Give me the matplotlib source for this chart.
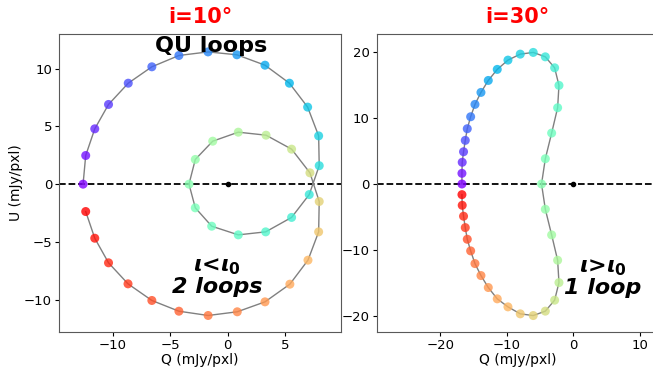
import numpy as np
import matplotlib
matplotlib.use("Agg")
import matplotlib.pyplot as plt

# texto matemático em negrito itálico (para o iota)
plt.rcParams['mathtext.fontset'] = 'custom'
plt.rcParams['mathtext.it'] = 'DejaVu Sans:italic:bold'
plt.rcParams['mathtext.rm'] = 'DejaVu Sans:bold'

# =============================================================================
# Data (mJy/pxl)
# =============================================================================
# i = 10 deg : two loops
q10 = [-12.6, -12.37, -11.58, -10.38, -8.66, -6.6, -4.24, -1.7, 0.82, 3.27, 5.4, 6.99, 7.95, 8.0,
       7.13, 5.59, 3.33, 0.94, -1.38, -2.81, -3.36, -2.81, -1.29, 0.94, 3.36, 5.59, 7.19,
       8.0, 7.95, 7.02, 5.44, 3.27, 0.85, -1.69, -4.24, -6.6, -8.68, -10.38, -11.58, -12.37]
u10 = [0.0, 2.48, 4.79, 6.9, 8.74, 10.16, 11.14, 11.45, 11.2, 10.3, 8.74, 6.67, 4.18, 1.6,
       -0.9, -2.88, -4.13, -4.39, -3.64, -2.05, 0.0, 2.14, 3.72, 4.5, 4.24, 3.03, 0.98,
       -1.5, -4.13, -6.58, -8.66, -10.19, -11.05, -11.37, -11.0, -10.07, -8.63, -6.81, -4.68, -2.37]

# i = 30 deg : one loop
q30 = [-16.74, -16.74, -16.7, -16.5, -16.24, -15.94, -15.43, -14.78, -13.88, -12.78, -11.43,
       -9.82, -7.97, -6.02, -4.2, -2.8, -2.15, -2.35, -3.25, -4.2, -4.77,
       -4.2, -3.25, -2.35, -2.15, -2.8, -4.2, -6.02, -7.97, -9.82, -11.43, -12.78,
       -13.88, -14.78, -15.43, -15.94, -16.24, -16.5, -16.7, -16.74]
u30 = [0.0, 1.62, 3.3, 4.9, 6.63, 8.4, 10.22, 12.1, 13.92, 15.74, 17.42,
       18.83, 19.74, 20.0, 19.33, 17.66, 14.99, 11.59, 7.74, 3.84, 0.0,
       -3.84, -7.74, -11.59, -14.99, -17.66, -19.33, -20.0, -19.74, -18.68, -17.46, -15.74,
       -13.92, -12.1, -10.17, -8.4, -6.63, -4.9, -3.24, -1.62]

titulos = ["i=10°", "i=30°"]
textos = [r"$\iota$<$\iota_0$" + "\n2 loops", r"$\iota$>$\iota_0$" + "\n1 loop"]

# =============================================================================
# Figura
# =============================================================================
fig = plt.figure(figsize=(6.53, 3.68), dpi=100)
ax1 = fig.add_axes([59 / 653, 36 / 368, 282 / 653, 298 / 368])
ax2 = fig.add_axes([376.7 / 653, 36 / 368, 282 / 653, 298 / 368])


def painel(ax, q, u, titulo, texto, pos_texto):
    cores = plt.cm.rainbow(np.linspace(0, 1, len(q)))
    ax.plot(q, u, color='gray', lw=1, zorder=2)
    ax.scatter(q, u, c=cores, s=42, alpha=0.8, edgecolors='none', zorder=3)
    ax.axhline(0, color='black', ls='--', lw=1.3, zorder=1)
    ax.plot(0, 0, 'o', color='black', ms=3, zorder=4)
    ax.set_title(titulo, color='red', fontsize=15, fontweight='bold', pad=8)
    ax.text(pos_texto[0], pos_texto[1], texto, ha='center', va='center',
            fontsize=16, fontweight='bold', fontstyle='italic', linespacing=1.0)
    ax.set_xlabel('Q (mJy/pxl)', fontsize=10, labelpad=1)
    ax.tick_params(labelsize=9.5, length=3, width=0.8, pad=2)
    for s in ax.spines.values():
        s.set_color('0.35')


painel(ax1, q10, u10, titulos[0], textos[0], (-0.9, -8.0))
painel(ax2, q30, u30, titulos[1], textos[1], (4.4, -14.3))

ax1.set_xlim(-14.7, 9.9)
ax1.set_ylim(-12.8, 13.0)
ax1.set_ylabel('U (mJy/pxl)', fontsize=10, labelpad=1)
ax1.text(-1.4, 12.0, 'QU loops', ha='center', va='center', fontsize=16, fontweight='bold')

ax2.set_xlim(-29.56, 12.85)
ax2.set_ylim(-22.5, 22.8)

fig.savefig('out.png', dpi=100)
